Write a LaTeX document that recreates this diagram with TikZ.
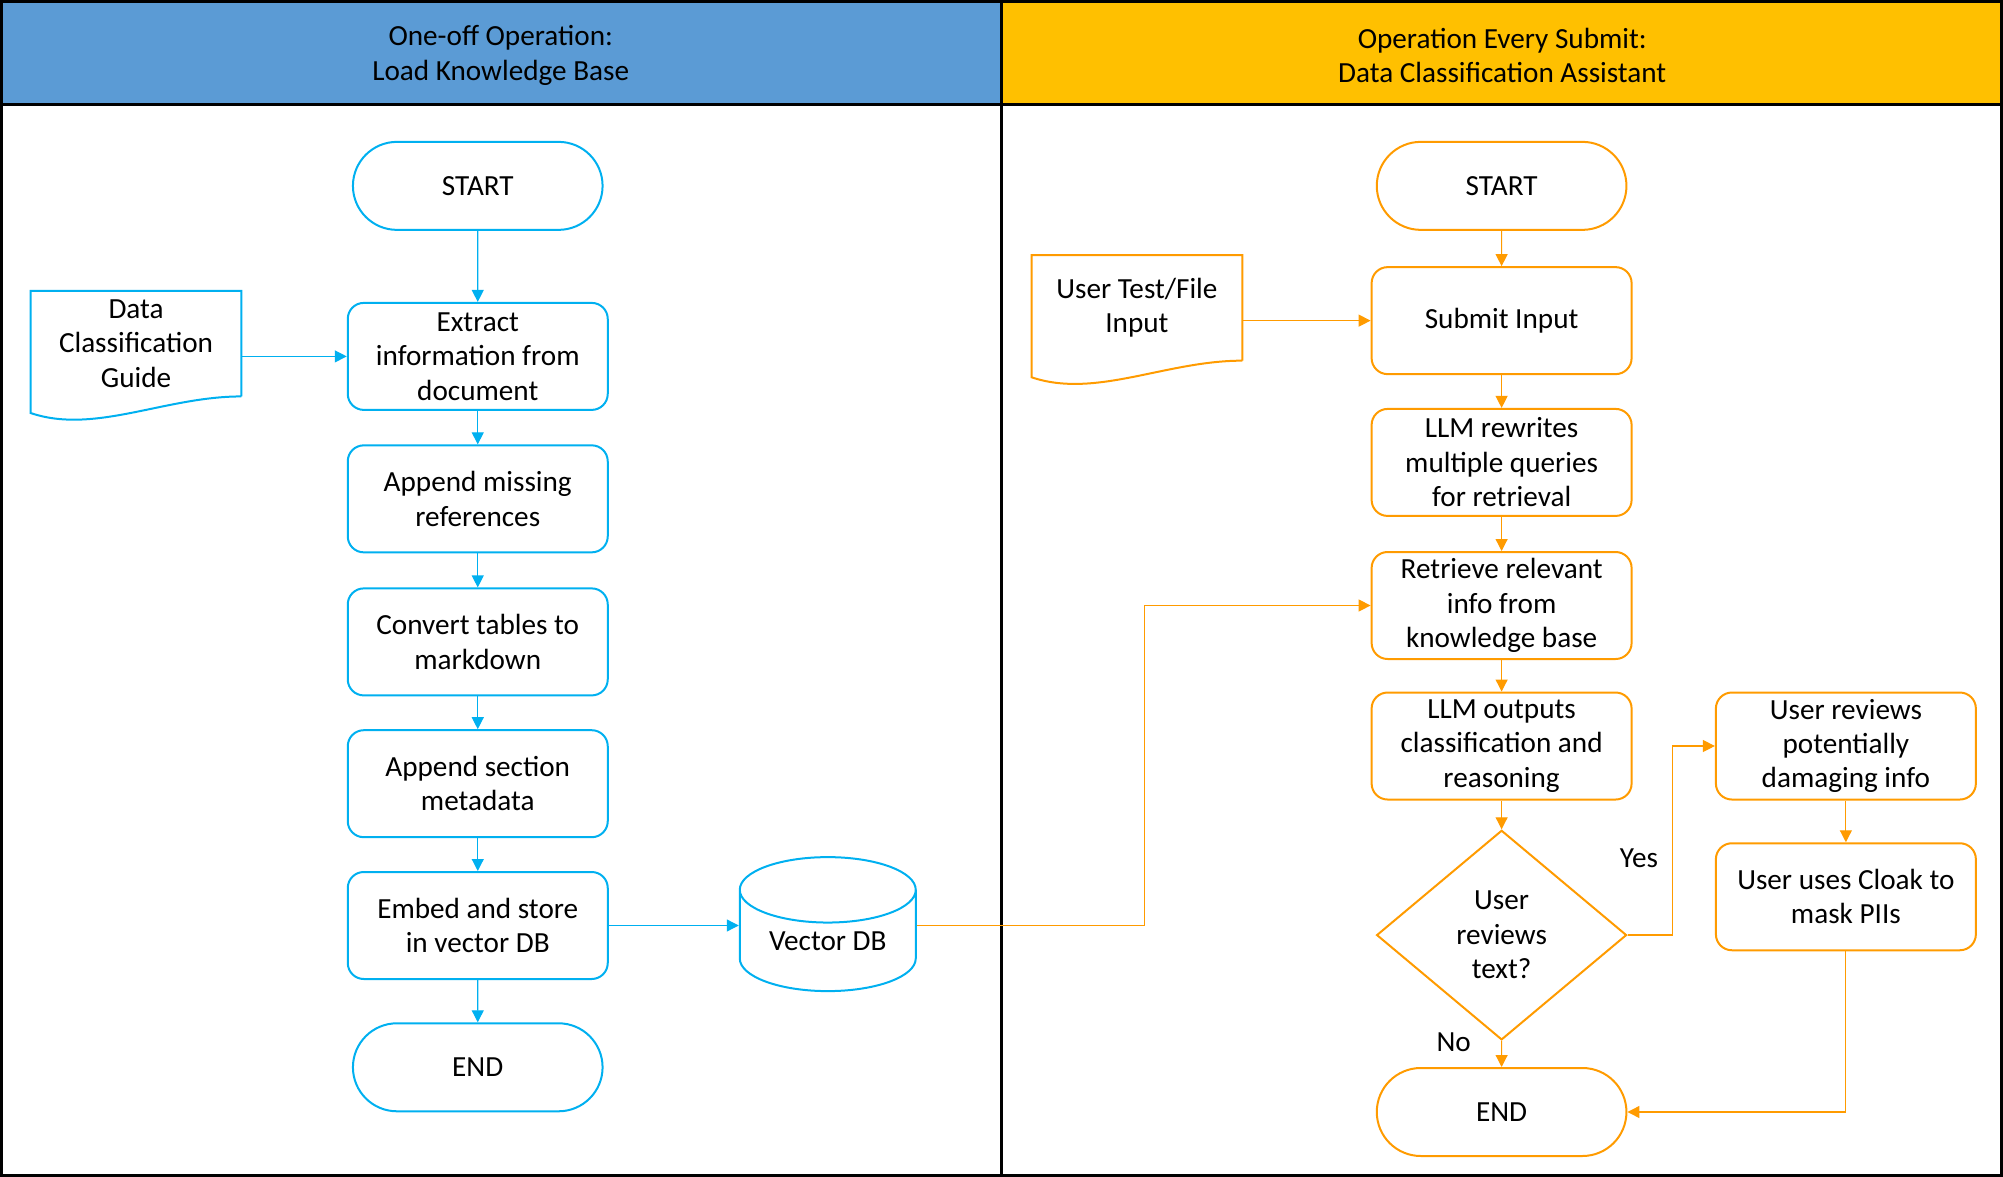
\documentclass[tikz,border=0pt]{standalone}
\usepackage{fontspec}
\setmainfont{Carlito}
\usepackage{tikz}
\usetikzlibrary{positioning}
\usetikzlibrary{shapes.misc,shapes.geometric}
\usetikzlibrary{arrows.meta}
\definecolor{kbblue}{RGB}{0,176,240}
\definecolor{dcorange}{RGB}{255,155,0}
\definecolor{hdrblue}{RGB}{91,155,213}
\definecolor{hdrgold}{RGB}{255,192,0}
\tikzset{every node/.style={font=\fontsize{14.6}{17.2}\selectfont, align=center}}
\tikzset{procbox/.style={draw, line width=1pt, rounded corners=8pt, minimum width=130pt, minimum height=53.5pt, inner sep=0pt}}
\tikzset{termbox/.style={draw, line width=1pt, rounded rectangle, minimum width=131.5pt, minimum height=44pt}}
\tikzset{docbox/.style={minimum width=105pt, minimum height=52.4pt, inner sep=0pt}}
\tikzset{decbox/.style={draw, line width=1pt, diamond, aspect=1.2, minimum width=125pt, minimum height=104.8pt, inner sep=0pt}}
\tikzset{flow/.style={line width=0.6pt, -{Triangle[length=6pt,width=6pt]}}}
% document symbol with a wavy bottom
\newcommand{\docshape}[2]{%
\draw[#2, line width=1pt] (#1.south east) -- (#1.north east) -- (#1.north west) -- ([yshift=-8.3pt]#1.south west)
  .. controls +(50,17) and +(-60,0) .. (#1.south east);}

\begin{document}
\begin{tikzpicture}[x=0.63875pt, y=-0.63875pt]
\useasboundingbox (0,0) rectangle (1568,921);
\fill[hdrblue] (0,0) rectangle (784,82);
\fill[hdrgold] (784,0) rectangle (1568,82);
\node (hdrleft) at (392,43.5) {One-off Operation:\\Load Knowledge Base};
\node (hdrright) at (1176,43.5) {Operation Every Submit:\\Data Classification Assistant};
\draw[line width=1.3pt] (1,1) rectangle (1567,920);
\draw[line width=1.3pt] (1,82) -- (1567,82);
\draw[line width=1.3pt] (784,1) -- (784,920);

% load knowledge base
\node[termbox, draw=kbblue] (lstart) at (374,145.5) {START};
\node[procbox, draw=kbblue] (extract) at (374,279) {Extract\\information from\\document};
\node[procbox, draw=kbblue] (append) at (374,390.5) {Append missing\\references};
\node[procbox, draw=kbblue] (convert) at (374,502.5) {Convert tables to\\markdown};
\node[procbox, draw=kbblue] (section) at (374,613.5) {Append section\\metadata};
\node[procbox, draw=kbblue] (embed) at (374,724.5) {Embed and store\\in vector DB};
\node[termbox, draw=kbblue] (lend) at (374,835.5) {END};
\node[docbox] (guide) at (106.5,269) {Data\\Classification\\Guide};
\docshape{guide}{kbblue}
\node[cylinder, shape border rotate=90, draw=kbblue, line width=1pt, aspect=0.5, minimum width=88pt, minimum height=67pt] (vecdb) at (648,741.5) {\raisebox{5.7pt}{Vector DB}};

\draw[flow, kbblue] (lstart) -- (extract);
\draw[flow, kbblue] (guide.east |- extract) -- (extract);
\draw[flow, kbblue] (extract) -- (append);
\draw[flow, kbblue] (append) -- (convert);
\draw[flow, kbblue] (convert) -- (section);
\draw[flow, kbblue] (section) -- (embed);
\draw[flow, kbblue] (embed) -- (lend);
\draw[flow, kbblue] (embed) -- (embed -| vecdb.west);

% data classification assistant
\node[termbox, draw=dcorange] (rstart) at (1175.5,145.5) {START};
\node[procbox, draw=dcorange] (submit) at (1175.5,251) {Submit Input};
\node[procbox, draw=dcorange] (rewrite) at (1175.5,362) {LLM rewrites\\multiple queries\\for retrieval};
\node[procbox, draw=dcorange] (retrieve) at (1175.5,474) {Retrieve relevant\\info from\\knowledge base};
\node[procbox, draw=dcorange] (classify) at (1175.5,584) {LLM outputs\\classification and\\reasoning};
\node[decbox, draw=dcorange] (decide) at (1175.5,732) {User\\reviews\\text?};
\node[termbox, draw=dcorange] (rend) at (1175.5,870.5) {END};
\node[procbox, draw=dcorange] (review) at (1445,584) {User reviews\\potentially\\damaging info};
\node[procbox, draw=dcorange] (cloak) at (1445,702) {User uses Cloak to\\mask PIIs};
\node[docbox] (userin) at (890,241) {User Test/File\\Input};
\docshape{userin}{dcorange}
\node (yeslbl) at (1283,672) {Yes};
\node (nolbl) at (1138,816) {No};

\draw[flow, dcorange] (rstart) -- (submit);
\draw[flow, dcorange] (userin.east |- submit) -- (submit);
\draw[flow, dcorange] (submit) -- (rewrite);
\draw[flow, dcorange] (rewrite) -- (retrieve);
\draw[flow, dcorange] (retrieve) -- (classify);
\draw[flow, dcorange] (classify) -- (decide);
\draw[flow, dcorange] (decide) -- (rend);
\draw[flow, dcorange] (embed -| vecdb.east) -- ++(178,0) |- (retrieve.west);
\draw[flow, dcorange] (decide.east) -- ++(35,0) |- (review.west);
\draw[flow, dcorange] (review) -- (cloak);
\draw[flow, dcorange] (cloak.south) |- (rend.east);
\end{tikzpicture}
\end{document}
